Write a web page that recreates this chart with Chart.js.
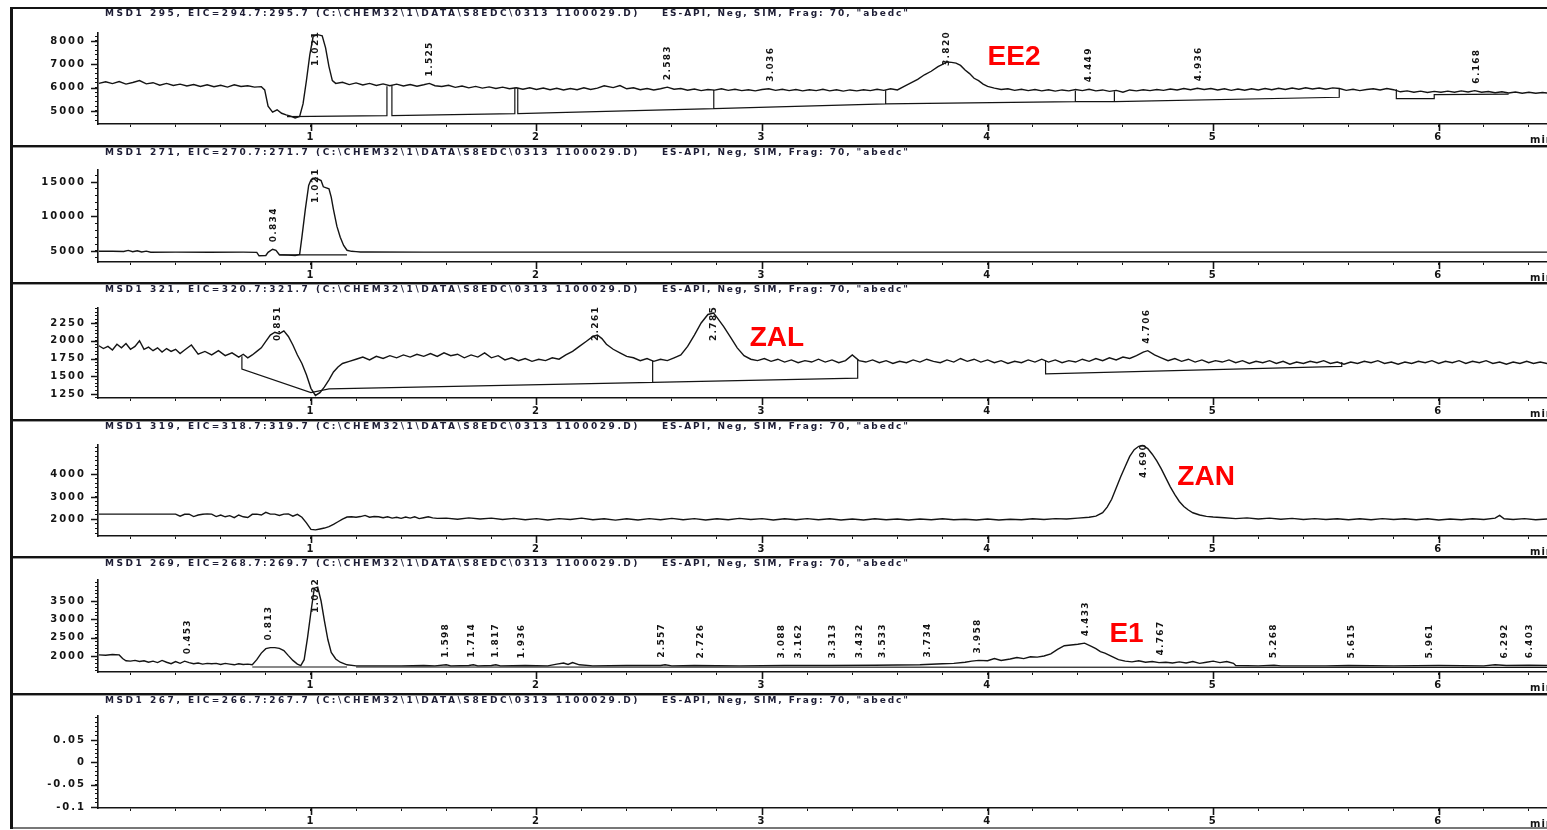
<!DOCTYPE html>
<html>
<head>
<meta charset="utf-8">
<title>MSD1 EIC chromatograms</title>
<script src="https://cdn.jsdelivr.net/npm/chart.js@4.4.1/dist/chart.umd.min.js"></script>
<style>
  body { margin: 0; background: #fff; }
  #page { position: relative; width: 1547px; height: 830px; overflow: hidden; }
  .rule { position: absolute; left: 10px; width: 1537px; height: 2px; background: #141414; }
  .rule.soft { height: 1px; background: #9a9a9a; }
  #leftbar { position: absolute; left: 10px; top: 7px; width: 3px; height: 822px; background: #141414; }
  canvas { position: absolute; left: 13px; }
</style>
</head>
<body>
<div id="page">
  <div class="rule" style="top:7px"></div>
  <div class="rule" style="top:145px"></div><div class="rule soft" style="top:147px"></div>
  <div class="rule" style="top:282px"></div><div class="rule soft" style="top:284px"></div>
  <div class="rule" style="top:419px"></div><div class="rule soft" style="top:421px"></div>
  <div class="rule" style="top:556px"></div><div class="rule soft" style="top:558px"></div>
  <div class="rule" style="top:693px"></div><div class="rule soft" style="top:695px"></div>
  <div class="rule soft" style="top:827px;height:2px;background:#777"></div>
  <div id="leftbar"></div>
  <canvas id="p1" width="1534" height="136" style="top:9px"></canvas>
  <canvas id="p2" width="1534" height="134" style="top:148px"></canvas>
  <canvas id="p3" width="1534" height="134" style="top:285px"></canvas>
  <canvas id="p4" width="1534" height="134" style="top:422px"></canvas>
  <canvas id="p5" width="1534" height="134" style="top:559px"></canvas>
  <canvas id="p6" width="1534" height="131" style="top:696px"></canvas>
</div>
<script>
// retention time window shown (min)
const X_MIN = 0.056
const X_MAX = 6.48
const X_STEP = 0.2

const HEADER_TAIL = 'ES-API, Neg, SIM, Frag: 70, "abedc"'

// ---- m/z 295 (EE2) ----
const mz295Time = [
  0.06, 0.09, 0.12, 0.15, 0.18, 0.21, 0.24, 0.27, 0.30, 0.33,
  0.36, 0.39, 0.42, 0.45, 0.48, 0.51, 0.54, 0.57, 0.60, 0.63,
  0.66, 0.69, 0.72, 0.75, 0.78, 0.795, 0.81, 0.83, 0.85, 0.87,
  0.89, 0.91, 0.93, 0.95, 0.965, 0.98, 0.995, 1.01, 1.03, 1.05,
  1.065, 1.08, 1.095, 1.11, 1.14, 1.17, 1.20, 1.23, 1.26, 1.29,
  1.32, 1.35, 1.38, 1.41, 1.44, 1.47, 1.50, 1.525, 1.55, 1.58,
  1.61, 1.64, 1.67, 1.70, 1.73, 1.76, 1.79, 1.82, 1.85, 1.88,
  1.91, 1.94, 1.97, 2.00, 2.03, 2.06, 2.09, 2.12, 2.15, 2.18,
  2.21, 2.24, 2.27, 2.30, 2.34, 2.37, 2.40, 2.43, 2.46, 2.49,
  2.52, 2.55, 2.58, 2.61, 2.64, 2.67, 2.70, 2.73, 2.76, 2.79,
  2.82, 2.85, 2.88, 2.91, 2.94, 2.97, 3.00, 3.03, 3.06, 3.09,
  3.12, 3.15, 3.18, 3.21, 3.24, 3.27, 3.30, 3.33, 3.36, 3.39,
  3.42, 3.45, 3.48, 3.51, 3.54, 3.57, 3.60, 3.63, 3.66, 3.69,
  3.72, 3.75, 3.78, 3.80, 3.82, 3.84, 3.86, 3.88, 3.90, 3.92,
  3.94, 3.96, 3.98, 4.00, 4.03, 4.06, 4.09, 4.12, 4.15, 4.18,
  4.21, 4.24, 4.27, 4.30, 4.33, 4.36, 4.39, 4.42, 4.45, 4.48,
  4.51, 4.54, 4.57, 4.60, 4.63, 4.66, 4.69, 4.72, 4.75, 4.78,
  4.81, 4.84, 4.87, 4.90, 4.93, 4.96, 4.99, 5.02, 5.05, 5.08,
  5.11, 5.14, 5.17, 5.20, 5.23, 5.26, 5.29, 5.32, 5.35, 5.38,
  5.41, 5.44, 5.47, 5.50, 5.53, 5.56, 5.59, 5.62, 5.65, 5.68,
  5.71, 5.74, 5.77, 5.80, 5.83, 5.86, 5.89, 5.92, 5.95, 5.98,
  6.01, 6.04, 6.07, 6.10, 6.13, 6.16, 6.19, 6.22, 6.25, 6.28,
  6.31, 6.34, 6.37, 6.40, 6.43, 6.46, 6.48
]
const mz295Signal = [
  6180, 6250, 6170, 6260, 6150, 6220, 6300, 6160, 6210, 6100,
  6180, 6090, 6150, 6070, 6130, 6050, 6120, 6040, 6100, 6020,
  6120, 6050, 6080, 6020, 6040, 5900, 5200, 4950, 5050, 4900,
  4830, 4780, 4700, 4760, 5300, 6300, 7400, 8200, 8270, 8220,
  7700, 6900, 6300, 6180, 6230, 6130, 6200, 6110, 6180, 6090,
  6160, 6080, 6150, 6070, 6130, 6060, 6120, 6180, 6080, 6050,
  6100, 6010, 6070, 5990, 6050, 5980, 6030, 5960, 6020, 5950,
  5990, 5930, 5990, 5920, 5980, 5910, 5970, 5900, 5960, 5910,
  5990, 5920, 5980, 6080, 6000, 6090, 5950, 5990, 5910, 5960,
  5900, 5950, 6020, 5930, 5960, 5890, 5940, 5870, 5920, 5890,
  5950, 5880, 5930, 5870, 5910, 5860, 5920, 5950, 5880, 5930,
  5870, 5920, 5860, 5910, 5870, 5930, 5860, 5910, 5850, 5900,
  5860, 5910, 5870, 5930, 5880, 5950, 5900, 6050, 6200, 6350,
  6550, 6700, 6900, 7000, 7100, 7080, 7050, 6950, 6750, 6600,
  6400, 6300, 6150, 6050, 5980, 5920, 5950, 5880, 5930, 5870,
  5920, 5860, 5910, 5850, 5900, 5860, 5920, 5870, 5930, 5860,
  5900, 5840, 5880, 5800, 5900, 5860, 5910, 5870, 5920, 5880,
  5940, 5900, 5960, 5910, 5970, 5920, 5960, 5900, 5950, 5880,
  5940, 5890, 5950, 5900, 5960, 5910, 5970, 5920, 5980, 5930,
  5990, 5940, 5980, 5930, 5990, 5960, 5880, 5930, 5870, 5920,
  5950, 5900, 5960, 5910, 5820, 5860, 5800, 5850, 5790, 5840,
  5800, 5850, 5800, 5860, 5810, 5870, 5800, 5830, 5780, 5820,
  5770, 5810, 5760, 5800, 5760, 5790, 5770
]
// integration baselines: [time, signal] segments
const mz295Baseline = [
  [[0.894, 4760], [1.337, 4800], [1.337, 6060]],
  [[1.359, 6100], [1.359, 4800], [1.904, 4885], [1.904, 5990]],
  [[1.917, 5990], [1.917, 4885], [2.786, 5100], [2.786, 5900]],
  [[2.786, 5100], [3.548, 5300], [3.548, 5890]],
  [[3.548, 5300], [4.389, 5400], [4.389, 5870]],
  [[4.389, 5400], [4.562, 5400], [4.562, 5840]],
  [[4.562, 5400], [5.559, 5585], [5.559, 5960]],
  [[5.812, 5930], [5.812, 5530], [5.98, 5530], [5.98, 5700], [6.31, 5720]]
]
const mz295Peaks = ['1.021', '1.525', '2.583', '3.036', '3.820', '4.449', '4.936', '6.168']
const mz295YLabels = [5000, 6000, 7000, 8000]

// ---- m/z 271 ----
const mz271Time = [
  0.06, 0.12, 0.17, 0.19, 0.21, 0.23, 0.25, 0.27, 0.29, 0.40,
  0.55, 0.70, 0.76, 0.77, 0.80, 0.81, 0.83, 0.845, 0.86, 0.90,
  0.93, 0.95, 0.96, 0.975, 0.99, 1.00, 1.02, 1.045, 1.055, 1.08,
  1.09, 1.10, 1.115, 1.13, 1.145, 1.16, 1.18, 1.20, 1.22, 1.25,
  1.50, 2.00, 3.00, 4.00, 5.00, 6.00, 6.48
]
const mz271Signal = [
  4950, 4950, 4930, 5080, 4880, 5030, 4860, 4980, 4820, 4830,
  4820, 4830, 4800, 4300, 4350, 4800, 5250, 5100, 4450, 4400,
  4350, 4500, 7000, 11000, 14500, 15300, 15600, 15200, 14300, 14000,
  12800, 11000, 8600, 7000, 5800, 5100, 4950, 4900, 4860, 4840,
  4830, 4830, 4830, 4830, 4830, 4830, 4830
]
const mz271Baseline = [
  [[0.86, 4420], [1.16, 4420]]
]
const mz271Peaks = ['0.834', '1.021']
const mz271YLabels = [5000, 10000, 15000]

// ---- m/z 321 (ZAL) ----
const mz321Time = [
  0.06, 0.08, 0.10, 0.12, 0.14, 0.16, 0.18, 0.20, 0.22, 0.24,
  0.26, 0.28, 0.30, 0.32, 0.34, 0.36, 0.38, 0.40, 0.42, 0.44,
  0.47, 0.50, 0.53, 0.56, 0.59, 0.62, 0.65, 0.68, 0.70, 0.72,
  0.74, 0.76, 0.78, 0.80, 0.82, 0.84, 0.86, 0.88, 0.90, 0.92,
  0.94, 0.96, 0.98, 1.00, 1.02, 1.04, 1.06, 1.08, 1.10, 1.12,
  1.14, 1.17, 1.20, 1.23, 1.26, 1.29, 1.32, 1.35, 1.38, 1.41,
  1.44, 1.47, 1.50, 1.53, 1.56, 1.59, 1.62, 1.65, 1.68, 1.71,
  1.74, 1.77, 1.80, 1.83, 1.86, 1.89, 1.92, 1.95, 1.98, 2.01,
  2.04, 2.07, 2.10, 2.13, 2.16, 2.19, 2.22, 2.25, 2.27, 2.29,
  2.31, 2.34, 2.37, 2.40, 2.43, 2.46, 2.49, 2.52, 2.55, 2.58,
  2.61, 2.64, 2.67, 2.70, 2.73, 2.76, 2.785, 2.80, 2.83, 2.86,
  2.89, 2.92, 2.95, 2.98, 3.01, 3.04, 3.07, 3.10, 3.13, 3.16,
  3.19, 3.22, 3.25, 3.28, 3.31, 3.34, 3.37, 3.40, 3.43, 3.46,
  3.49, 3.52, 3.55, 3.58, 3.61, 3.64, 3.67, 3.70, 3.73, 3.76,
  3.79, 3.82, 3.85, 3.88, 3.91, 3.94, 3.97, 4.00, 4.03, 4.06,
  4.09, 4.12, 4.15, 4.18, 4.21, 4.24, 4.27, 4.30, 4.33, 4.36,
  4.39, 4.42, 4.45, 4.48, 4.51, 4.54, 4.57, 4.60, 4.63, 4.66,
  4.69, 4.71, 4.74, 4.77, 4.80, 4.83, 4.86, 4.89, 4.92, 4.95,
  4.98, 5.01, 5.04, 5.07, 5.10, 5.13, 5.16, 5.19, 5.22, 5.25,
  5.28, 5.31, 5.34, 5.37, 5.40, 5.43, 5.46, 5.49, 5.52, 5.55,
  5.58, 5.61, 5.64, 5.67, 5.70, 5.73, 5.76, 5.79, 5.82, 5.85,
  5.88, 5.91, 5.94, 5.97, 6.00, 6.03, 6.06, 6.09, 6.12, 6.15,
  6.18, 6.21, 6.24, 6.27, 6.30, 6.33, 6.36, 6.39, 6.42, 6.45,
  6.48
]
const mz321Signal = [
  1930, 1890, 1920, 1870, 1950, 1900, 1960, 1880, 1920, 2000,
  1880, 1910, 1860, 1900, 1840, 1890, 1850, 1880, 1820, 1870,
  1940, 1810, 1850, 1800, 1860, 1790, 1830, 1770, 1810, 1760,
  1800, 1850, 1900, 1990, 2080, 2120, 2100, 2140, 2060, 1940,
  1800, 1680, 1520, 1330, 1230, 1270, 1350, 1450, 1560, 1630,
  1680, 1710, 1740, 1770, 1730, 1780, 1750, 1790, 1760, 1800,
  1770, 1810, 1780, 1820, 1780, 1830, 1790, 1810, 1760, 1800,
  1770, 1830, 1760, 1790, 1730, 1760, 1720, 1750, 1710, 1740,
  1720, 1760, 1740, 1800, 1850, 1920, 1990, 2060, 2080, 2030,
  1950, 1880, 1830, 1780, 1760, 1720, 1750, 1710, 1740, 1720,
  1760, 1800, 1920, 2080, 2250, 2370, 2390, 2330, 2200, 2050,
  1900, 1790, 1740, 1720, 1750, 1710, 1740, 1700, 1730, 1690,
  1720, 1700, 1740, 1700, 1730, 1690, 1720, 1800, 1720, 1700,
  1730, 1690, 1720, 1680, 1710, 1690, 1730, 1700, 1740, 1710,
  1690, 1730, 1700, 1750, 1710, 1740, 1700, 1730, 1690, 1720,
  1680, 1710, 1690, 1730, 1700, 1740, 1700, 1730, 1690, 1720,
  1700, 1740, 1710, 1750, 1720, 1760, 1730, 1770, 1750, 1790,
  1840, 1860, 1800, 1760, 1720, 1750, 1710, 1740, 1700, 1730,
  1690, 1720, 1700, 1730, 1690, 1720, 1680, 1710, 1690, 1720,
  1680, 1710, 1670, 1700, 1680, 1710, 1690, 1720, 1680, 1700,
  1670, 1700, 1680, 1710, 1690, 1720, 1680, 1700, 1670, 1700,
  1680, 1710, 1690, 1720, 1680, 1710, 1690, 1720, 1680, 1710,
  1690, 1720, 1680, 1700, 1670, 1700, 1680, 1710, 1680, 1700,
  1680
]
const mz321Baseline = [
  [[0.694, 1780], [0.694, 1600], [1.0, 1270], [1.08, 1322], [2.515, 1415], [2.515, 1720]],
  [[2.515, 1415], [3.424, 1475], [3.424, 1730]],
  [[4.257, 1720], [4.257, 1534], [5.57, 1640], [5.57, 1700]]
]
const mz321Peaks = ['0.851', '2.261', '2.785', '4.706']
const mz321YLabels = [1250, 1500, 1750, 2000, 2250]

// ---- m/z 319 (ZAN) ----
const mz319Time = [
  0.06, 0.20, 0.40, 0.42, 0.44, 0.46, 0.48, 0.50, 0.52, 0.54,
  0.56, 0.58, 0.60, 0.62, 0.64, 0.66, 0.68, 0.70, 0.72, 0.74,
  0.76, 0.78, 0.80, 0.82, 0.84, 0.86, 0.88, 0.90, 0.92, 0.94,
  0.96, 0.98, 1.00, 1.02, 1.04, 1.06, 1.08, 1.10, 1.12, 1.14,
  1.16, 1.18, 1.20, 1.22, 1.24, 1.26, 1.28, 1.30, 1.32, 1.34,
  1.36, 1.38, 1.40, 1.42, 1.44, 1.46, 1.48, 1.50, 1.52, 1.54,
  1.56, 1.60, 1.65, 1.70, 1.75, 1.80, 1.85, 1.90, 1.95, 2.00,
  2.05, 2.10, 2.15, 2.20, 2.25, 2.30, 2.35, 2.40, 2.45, 2.50,
  2.55, 2.60, 2.65, 2.70, 2.75, 2.80, 2.85, 2.90, 2.95, 3.00,
  3.05, 3.10, 3.15, 3.20, 3.25, 3.30, 3.35, 3.40, 3.45, 3.50,
  3.55, 3.60, 3.65, 3.70, 3.75, 3.80, 3.85, 3.90, 3.95, 4.00,
  4.05, 4.10, 4.15, 4.20, 4.25, 4.30, 4.35, 4.40, 4.45, 4.48,
  4.51, 4.53, 4.55, 4.57, 4.59, 4.61, 4.63, 4.65, 4.67, 4.69,
  4.71, 4.73, 4.75, 4.77, 4.79, 4.81, 4.83, 4.85, 4.87, 4.89,
  4.91, 4.94, 4.97, 5.00, 5.05, 5.10, 5.15, 5.20, 5.25, 5.30,
  5.35, 5.40, 5.45, 5.50, 5.55, 5.60, 5.65, 5.70, 5.75, 5.80,
  5.85, 5.90, 5.95, 6.00, 6.05, 6.10, 6.15, 6.20, 6.25, 6.27,
  6.29, 6.33, 6.38, 6.43, 6.48
]
const mz319Signal = [
  2240, 2240, 2240, 2150, 2230, 2240, 2130, 2200, 2230, 2250,
  2240, 2130, 2200, 2120, 2170, 2080, 2200, 2120, 2090, 2230,
  2240, 2200, 2320, 2240, 2240, 2180, 2240, 2250, 2150, 2230,
  2100, 1850, 1560, 1540, 1580, 1620, 1680, 1780, 1900, 2020,
  2110, 2120, 2100, 2130, 2180, 2100, 2130, 2120, 2080, 2120,
  2060, 2100, 2050, 2110, 2060, 2120, 2040, 2080, 2120, 2070,
  2050, 2060, 2010, 2070, 2020, 2060, 2000, 2050, 1990, 2040,
  1980, 2040, 2000, 2060, 1990, 2030, 1970, 2030, 1980, 2040,
  1990, 2050, 1990, 2040, 1980, 2030, 1990, 2050, 2000, 2040,
  1980, 2030, 1990, 2040, 1990, 2030, 1980, 2020, 1980, 2030,
  1990, 2020, 1980, 2020, 1990, 2030, 1990, 2010, 1980, 2020,
  1980, 2010, 1990, 2030, 2000, 2040, 2020, 2060, 2100, 2150,
  2300, 2550, 2900, 3400, 3900, 4350, 4800, 5100, 5250, 5280,
  5150, 4900, 4600, 4250, 3850, 3450, 3100, 2800, 2580, 2420,
  2300, 2200, 2140, 2110, 2080, 2040, 2070, 2020, 2060, 2010,
  2050, 2000, 2040, 2000, 2030, 1990, 2030, 1990, 2040, 2000,
  2030, 1990, 2030, 1980, 2020, 1990, 2030, 2000, 2060, 2180,
  2030, 2000, 2040, 1990, 2020
]
const mz319Peaks = ['4.690']
const mz319YLabels = [2000, 3000, 4000]

// ---- m/z 269 (E1) ----
const mz269Time = [
  0.06, 0.09, 0.12, 0.15, 0.165, 0.18, 0.20, 0.22, 0.24, 0.26,
  0.28, 0.30, 0.32, 0.34, 0.36, 0.38, 0.40, 0.42, 0.44, 0.46,
  0.48, 0.50, 0.52, 0.54, 0.56, 0.58, 0.60, 0.62, 0.64, 0.66,
  0.68, 0.70, 0.72, 0.74, 0.76, 0.78, 0.80, 0.82, 0.84, 0.86,
  0.88, 0.90, 0.92, 0.94, 0.955, 0.97, 0.985, 1.00, 1.015, 1.03,
  1.045, 1.06, 1.075, 1.09, 1.11, 1.13, 1.16, 1.20, 1.30, 1.40,
  1.50, 1.55, 1.60, 1.62, 1.70, 1.72, 1.74, 1.80, 1.82, 1.84,
  1.95, 2.05, 2.09, 2.12, 2.14, 2.16, 2.19, 2.25, 2.40, 2.55,
  2.57, 2.60, 2.70, 2.90, 3.10, 3.30, 3.50, 3.70, 3.80, 3.85,
  3.90, 3.93, 3.96, 4.00, 4.03, 4.06, 4.10, 4.13, 4.16, 4.19,
  4.22, 4.25, 4.28, 4.31, 4.34, 4.37, 4.40, 4.43, 4.46, 4.48,
  4.50, 4.52, 4.55, 4.58, 4.61, 4.64, 4.67, 4.70, 4.73, 4.76,
  4.79, 4.82, 4.85, 4.88, 4.91, 4.94, 4.97, 5.00, 5.03, 5.06,
  5.09, 5.10, 5.20, 5.27, 5.30, 5.50, 5.60, 5.80, 6.00, 6.20,
  6.25, 6.30, 6.40, 6.48
]
const mz269Signal = [
  2030, 2020, 2040, 2030, 1930, 1870, 1860, 1880, 1850, 1870,
  1830, 1860, 1820, 1880, 1830, 1790, 1850, 1800, 1860, 1820,
  1790, 1810, 1780, 1800, 1790, 1800, 1770, 1800, 1780, 1760,
  1790, 1770, 1780, 1760, 1900, 2080, 2200, 2230, 2230, 2210,
  2150, 2010, 1880, 1780, 1740, 1900, 2500, 3200, 3850, 3880,
  3500, 2950, 2450, 2100, 1920, 1830, 1760, 1730, 1730, 1730,
  1740, 1730, 1760, 1730, 1740, 1760, 1730, 1740, 1760, 1730,
  1740, 1730, 1780, 1810, 1770, 1820, 1760, 1730, 1740, 1740,
  1760, 1730, 1740, 1730, 1740, 1740, 1750, 1760, 1790, 1800,
  1830, 1860, 1880, 1870, 1930, 1880, 1920, 1960, 1930, 1980,
  1970, 2000, 2060, 2180, 2280, 2300, 2320, 2350, 2260, 2200,
  2120, 2080, 1990, 1900, 1860, 1840, 1870, 1830, 1850, 1820,
  1830, 1810, 1840, 1810, 1850, 1800, 1830, 1860, 1820, 1850,
  1800, 1740, 1730, 1750, 1730, 1730, 1740, 1730, 1740, 1730,
  1760, 1740, 1750, 1740
]
const mz269Baseline = [
  [[0.74, 1700], [1.16, 1700]],
  [[1.20, 1700], [6.48, 1690]]
]
const mz269Peaks = [
  '0.453', '0.813', '1.022', '1.598', '1.714', '1.817', '1.936', '2.557', '2.726',
  '3.088', '3.162', '3.313', '3.432', '3.533', '3.734', '3.958', '4.433', '4.767',
  '5.268', '5.615', '5.961', '6.292', '6.403'
]
const mz269YLabels = [2000, 2500, 3000, 3500]

// ---- m/z 267 (empty trace) ----
const mz267YLabels = [-0.1, -0.05, 0, 0.05]

const panels = [
  { id: 'p1', header: 'MSD1 295, EIC=294.7:295.7 (C:\\CHEM32\\1\\DATA\\S8EDC\\0313 1100029.D)',
    time: mz295Time, signal: mz295Signal, baseline: mz295Baseline, peaks: mz295Peaks,
    yMin: 4440, yMax: 8340, yStep: 200, yLabels: mz295YLabels,
    tag: { text: 'EE2', t: 4.0, v: 7286 }, padTop: 24, xHeight: 21 },
  { id: 'p2', header: 'MSD1 271, EIC=270.7:271.7 (C:\\CHEM32\\1\\DATA\\S8EDC\\0313 1100029.D)',
    time: mz271Time, signal: mz271Signal, baseline: mz271Baseline, peaks: mz271Peaks,
    yMin: 3400, yMax: 16740, yStep: 1000, yLabels: mz271YLabels,
    tag: null, padTop: 22, xHeight: 20 },
  { id: 'p3', header: 'MSD1 321, EIC=320.7:321.7 (C:\\CHEM32\\1\\DATA\\S8EDC\\0313 1100029.D)',
    time: mz321Time, signal: mz321Signal, baseline: mz321Baseline, peaks: mz321Peaks,
    yMin: 1194, yMax: 2461, yStep: 50, yLabels: mz321YLabels,
    tag: { text: 'ZAL', t: 2.945, v: 2028 }, padTop: 23, xHeight: 21 },
  { id: 'p4', header: 'MSD1 319, EIC=318.7:319.7 (C:\\CHEM32\\1\\DATA\\S8EDC\\0313 1100029.D)',
    time: mz319Time, signal: mz319Signal, baseline: [], peaks: mz319Peaks,
    yMin: 1267, yMax: 5308, yStep: 200, yLabels: mz319YLabels,
    tag: { text: 'ZAN', t: 4.841, v: 3887 }, padTop: 23, xHeight: 20 },
  { id: 'p5', header: 'MSD1 269, EIC=268.7:269.7 (C:\\CHEM32\\1\\DATA\\S8EDC\\0313 1100029.D)',
    time: mz269Time, signal: mz269Signal, baseline: mz269Baseline, peaks: mz269Peaks,
    yMin: 1564, yMax: 4073, yStep: 100, yLabels: mz269YLabels,
    tag: { text: 'E1', t: 4.54, v: 2600 }, padTop: 21, xHeight: 21 },
  { id: 'p6', header: 'MSD1 267, EIC=266.7:267.7 (C:\\CHEM32\\1\\DATA\\S8EDC\\0313 1100029.D)',
    time: [], signal: [], baseline: [], peaks: [],
    yMin: -0.102, yMax: 0.104, yStep: 0.01, yLabels: mz267YLabels,
    tag: null, padTop: 20, xHeight: 19 }
]

const FONT = 'Arial, "Liberation Sans", sans-serif'
const WIDE_FONT = '"DejaVu Sans", Verdana, sans-serif'
const INK = '#141414'

function toPoints(times, values) {
  return times.map((t, i) => ({ x: t, y: values[i] }))
}

function toSegments(segs) {
  const out = []
  for (let seg of segs) {
    for (let [t, v] of seg) out.push({ x: t, y: v })
    out.push({ x: seg[seg.length - 1][0], y: null })
  }
  return out
}

// tick marks at every multiple of the step inside the range
function stepTicks(min, max, step) {
  const out = []
  for (let k = Math.ceil(min / step - 1e-9); k * step <= max + 1e-9; k++) {
    out.push({ value: +(k * step).toFixed(6) })
  }
  return out
}

// highest trace value close to a retention time (where its label sits)
function apexNear(times, values, t) {
  let best = -Infinity
  for (let i = 0; i < times.length - 1; i++) {
    if (times[i] <= t && times[i + 1] >= t) {
      const f = (t - times[i]) / (times[i + 1] - times[i])
      best = Math.max(best, values[i] + f * (values[i + 1] - values[i]))
    }
    if (Math.abs(times[i] - t) <= 0.02) best = Math.max(best, values[i])
  }
  return best
}

function spreadText(ctx, text, x0, x1, y) {
  ctx.letterSpacing = '0px'
  const w = ctx.measureText(text).width
  ctx.letterSpacing = ((x1 - x0 - w) / text.length) + 'px'
  ctx.fillText(text, x0, y)
}

function isYLabel(panel, v) {
  return panel.yLabels.some(l => Math.abs(l - v) < 1e-7)
}

function isMinute(v) {
  return v > 0.5 && Math.abs(v - Math.round(v)) < 1e-6
}

function chromPlugin(panel) {
  return {
    id: 'chrom',
    beforeDraw(chart) {
      // ChemStation prints its axis numbers wide
      chart.ctx.letterSpacing = '2px'
    },
    afterDraw(chart) {
      const { ctx, chartArea } = chart
      const xs = chart.scales.x
      const ys = chart.scales.y
      ctx.save()

      // longer marks on the labelled ticks
      ctx.strokeStyle = INK
      ctx.lineWidth = 1.6
      ctx.beginPath()
      for (let tick of xs.ticks) {
        if (!isMinute(tick.value)) continue
        const px = Math.round(xs.getPixelForValue(tick.value)) + 0.5
        ctx.moveTo(px, chartArea.bottom)
        ctx.lineTo(px, chartArea.bottom + 7)
      }
      for (let tick of ys.ticks) {
        if (!isYLabel(panel, tick.value)) continue
        const py = Math.round(ys.getPixelForValue(tick.value)) + 0.5
        ctx.moveTo(chartArea.left - 7, py)
        ctx.lineTo(chartArea.left, py)
      }
      ctx.stroke()

      ctx.fillStyle = '#1d1d35'
      ctx.textAlign = 'left'
      ctx.textBaseline = 'middle'
      ctx.font = 'bold 9px ' + WIDE_FONT
      spreadText(ctx, panel.header, 92, 627, 5)
      spreadText(ctx, HEADER_TAIL, 649, 897, 5)

      ctx.fillStyle = INK
      ctx.font = 'bold 10px ' + WIDE_FONT
      ctx.letterSpacing = '1px'
      ctx.fillText('min', 1517, chartArea.bottom + 16)

      // retention time labels, rotated
      ctx.font = 'bold 9px ' + WIDE_FONT
      ctx.letterSpacing = '1.3px'
      for (let text of panel.peaks) {
        const t = Number(text)
        const len = ctx.measureText(text).width
        const px = xs.getPixelForValue(t)
        let bottom = ys.getPixelForValue(apexNear(panel.time, panel.signal, t)) - 7
        if (bottom - len < chartArea.top - 2) bottom = chartArea.top - 2 + len
        ctx.save()
        ctx.translate(px, bottom)
        ctx.rotate(-Math.PI / 2)
        ctx.fillText(text, 0, 0)
        ctx.restore()
      }

      if (panel.tag) {
        ctx.font = 'bold 28px ' + FONT
        ctx.letterSpacing = '0px'
        ctx.fillStyle = '#ff0000'
        ctx.fillText(panel.tag.text, xs.getPixelForValue(panel.tag.t), ys.getPixelForValue(panel.tag.v))
      }
      ctx.restore()
    }
  }
}

for (let panel of panels) {
  new Chart(document.getElementById(panel.id), {
    type: 'line',
    data: {
      datasets: [
        {
          data: toPoints(panel.time, panel.signal),
          borderColor: INK,
          borderWidth: 1.4,
          pointRadius: 0,
          tension: 0,
        },
        {
          data: toSegments(panel.baseline),
          borderColor: INK,
          borderWidth: 1.2,
          pointRadius: 0,
          tension: 0,
          spanGaps: false,
        },
      ],
    },
    options: {
      responsive: false,
      animation: false,
      events: [],
      layout: { padding: { top: panel.padTop, left: 0, right: 0, bottom: 0 } },
      plugins: {
        legend: { display: false },
        tooltip: { enabled: false },
      },
      scales: {
        x: {
          type: 'linear',
          bounds: 'data',
          min: X_MIN,
          max: X_MAX,
          afterBuildTicks: s => {
            s.ticks = stepTicks(X_MIN, X_MAX, X_STEP)
          },
          afterFit: s => {
            s.height = panel.xHeight
            s.paddingLeft = 0
            s.paddingRight = 0
          },
          border: { color: INK, width: 1.6 },
          grid: {
            drawOnChartArea: false,
            tickLength: 3,
            tickColor: INK,
            tickWidth: 1,
          },
          ticks: {
            autoSkip: false,
            maxRotation: 0,
            padding: 4,
            color: INK,
            font: { family: WIDE_FONT, size: 10, weight: 'bold' },
            callback: v => (isMinute(v) ? String(Math.round(v)) : ''),
          },
        },
        y: {
          bounds: 'data',
          min: panel.yMin,
          max: panel.yMax,
          afterBuildTicks: s => {
            s.ticks = stepTicks(panel.yMin, panel.yMax, panel.yStep)
          },
          afterFit: s => {
            s.width = 85
            s.paddingTop = 0
            s.paddingBottom = 0
          },
          border: { color: INK, width: 1.6 },
          grid: {
            drawOnChartArea: false,
            tickLength: 3,
            tickColor: INK,
            tickWidth: 1,
          },
          ticks: {
            autoSkip: false,
            padding: 9,
            color: INK,
            font: { family: WIDE_FONT, size: 10, weight: 'bold' },
            callback: v => (isYLabel(panel, v) ? String(+v.toFixed(3)) : ''),
          },
        },
      },
    },
    plugins: [chromPlugin(panel)],
  })
}
</script>
</body>
</html>
